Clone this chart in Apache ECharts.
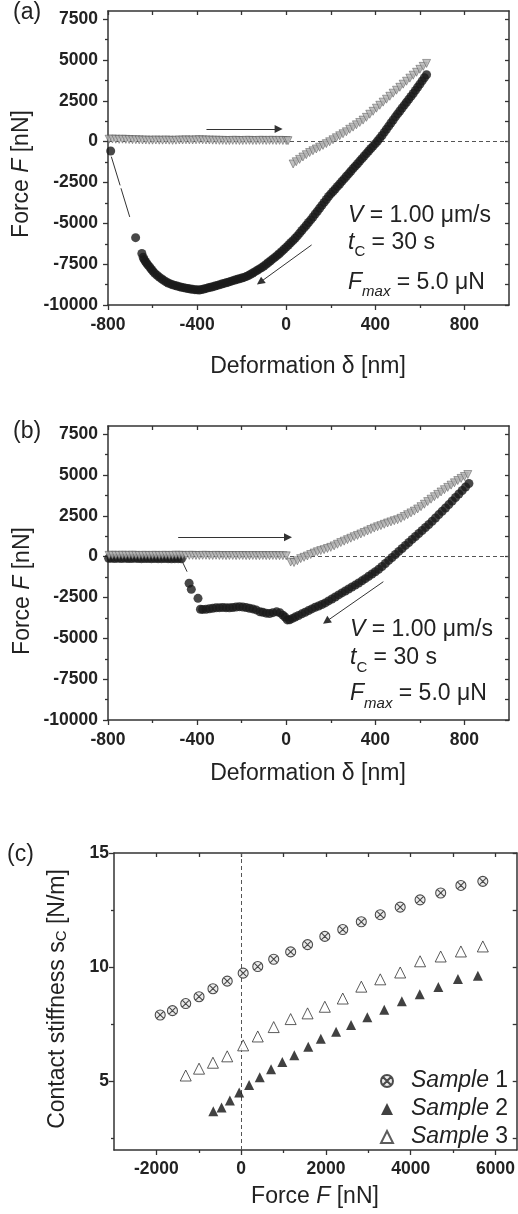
<!DOCTYPE html>
<html>
<head>
<meta charset="utf-8">
<script src="https://cdn.jsdelivr.net/npm/echarts@6/dist/echarts.min.js"></script>
<style>
html, body { margin: 0; padding: 0; background: #fff; }
#chart { width: 518px; height: 1214px; }
</style>
</head>
<body>
<div id="chart"></div>
<script>
/* three stacked panels: (a), (b) force curves, (c) contact stiffness */

var FONT = '"Liberation Sans", Arial, Helvetica, sans-serif';

/* tick positions */
var deformMajor = [-800, -400, 0, 400, 800];
var deformMinor = [-600, -200, 200, 600];
var forceMajor = [-10000, -7500, -5000, -2500, 0, 2500, 5000, 7500];
var forceMinor = [-8750, -6250, -3750, -1250, 1250, 3750, 6250];
var loadMajor = [-2000, 0, 2000, 4000, 6000];
var loadMinor = [-1000, 1000, 3000, 5000];
var stiffMajor = [5, 10, 15];
var stiffMinor = [2.5, 7.5, 12.5];

/* panel (a): approach (grey) and retract (black), [deformation nm, force nN] */
var approachA = [
	[-795, 150], [-780, 160], [-765, 150], [-750, 140], [-735, 150], [-720, 140], [-705, 130], [-690, 120],
	[-675, 120], [-660, 110], [-645, 100], [-630, 100], [-615, 90], [-600, 90], [-585, 100], [-570, 90],
	[-555, 90], [-540, 100], [-525, 90], [-510, 80], [-495, 90], [-480, 100], [-465, 100], [-450, 110],
	[-435, 100], [-420, 100], [-405, 110], [-390, 120], [-375, 110], [-360, 100], [-345, 100], [-330, 90],
	[-315, 90], [-300, 80], [-285, 80], [-270, 70], [-255, 70], [-240, 80], [-225, 80], [-210, 70],
	[-195, 70], [-180, 80], [-165, 80], [-150, 70], [-135, 70], [-120, 80], [-105, 80], [-90, 70],
	[-75, 80], [-60, 80], [-45, 70], [-30, 80], [-15, 70], [0, 70], [8, 60],
	[31, -1365], [45, -1230], [60, -1085], [75, -940], [90, -800], [105, -668], [120, -558], [135, -448],
	[150, -339], [165, -229], [180, -120], [195, -7], [210, 115], [225, 238], [240, 361], [255, 484],
	[270, 604], [285, 760], [300, 890], [315, 1030], [330, 1175], [345, 1320], [360, 1490], [375, 1680],
	[390, 1860], [405, 2050], [420, 2230], [435, 2420], [450, 2600], [465, 2780], [480, 2970], [495, 3150],
	[510, 3330], [525, 3520], [540, 3700], [555, 3890], [570, 4070], [585, 4250], [600, 4430], [615, 4610],
	[630, 4790]
];
var retractA = [
	[630, 4100], [620, 3910], [610, 3720], [600, 3520], [590, 3330], [580, 3140], [570, 2950], [560, 2770],
	[550, 2590], [540, 2410], [530, 2240], [520, 2060], [510, 1880], [500, 1700], [490, 1520], [480, 1330],
	[470, 1140], [460, 950], [450, 760], [440, 570], [430, 380], [420, 210], [410, 40], [400, -120],
	[390, -270], [380, -420], [370, -570], [360, -730], [350, -880], [340, -1040], [330, -1190], [320, -1350],
	[310, -1500], [300, -1650], [290, -1810], [280, -1970], [270, -2120], [260, -2280], [250, -2430], [240, -2590],
	[230, -2740], [220, -2900], [210, -3050], [200, -3200], [190, -3360], [180, -3540], [170, -3720], [160, -3900],
	[150, -4080], [140, -4260], [130, -4430], [120, -4610], [110, -4790], [100, -4950], [90, -5120], [80, -5280],
	[70, -5440], [60, -5600], [50, -5770], [40, -5910], [30, -6060], [20, -6190], [10, -6330], [0, -6460],
	[-10, -6590], [-20, -6720], [-30, -6850], [-40, -6960], [-50, -7070], [-60, -7180], [-70, -7290], [-80, -7400],
	[-90, -7510], [-100, -7610], [-110, -7710], [-120, -7790], [-130, -7870], [-140, -7960], [-150, -8040],
	[-160, -8120], [-170, -8200], [-180, -8260], [-190, -8310], [-200, -8350], [-210, -8390], [-220, -8430],
	[-230, -8470], [-240, -8510], [-250, -8555], [-260, -8600], [-270, -8640], [-280, -8680], [-290, -8720],
	[-300, -8760], [-310, -8800], [-320, -8840], [-330, -8880], [-340, -8915], [-350, -8950], [-360, -8985],
	[-370, -9020], [-380, -9050], [-390, -9080], [-400, -9070], [-410, -9060], [-420, -9040], [-430, -9020],
	[-440, -8995], [-450, -8970], [-460, -8940], [-470, -8910], [-480, -8875], [-490, -8840], [-500, -8800],
	[-510, -8760], [-520, -8710], [-530, -8650], [-540, -8575], [-550, -8490], [-560, -8395], [-570, -8290],
	[-580, -8180], [-590, -8060], [-598, -7940], [-605, -7820], [-612, -7690], [-620, -7560], [-626, -7450],
	[-632, -7340], [-638, -7210], [-642, -7080], [-648, -6850], [-676, -5875], [-788, -570]
];
var jumpA = [[-785, -920], [-702, -4630]];
var arrowsA = [[[-358, 780], [-34, 780], 0], [[114, -6322], [-117, -8605], -0.12]];

/* panel (b) */
var approachB = [
	[-795, 80], [-780, 90], [-765, 80], [-750, 80], [-735, 90], [-720, 80], [-705, 80], [-690, 90],
	[-675, 80], [-660, 70], [-645, 80], [-630, 80], [-615, 70], [-600, 80], [-585, 80], [-570, 70],
	[-555, 80], [-540, 80], [-525, 70], [-510, 80], [-495, 90], [-480, 80], [-465, 80], [-450, 70],
	[-435, 80], [-420, 80], [-405, 70], [-390, 70], [-375, 80], [-360, 80], [-345, 70], [-330, 70],
	[-315, 80], [-300, 70], [-285, 70], [-270, 60], [-255, 70], [-240, 70], [-225, 60], [-210, 70],
	[-195, 70], [-180, 60], [-165, 60], [-150, 70], [-135, 60], [-120, 60], [-105, 70], [-90, 60],
	[-75, 60], [-60, 70], [-45, 60], [-30, 60], [-15, 60], [0, 50],
	[20, -330], [35, -360], [50, -250], [65, -120], [80, -40], [95, 40], [110, 130], [125, 220],
	[140, 300], [155, 370], [170, 430], [185, 500], [200, 570], [215, 660], [230, 760], [245, 860],
	[260, 950], [275, 1040], [290, 1130], [305, 1220], [320, 1300], [335, 1390], [350, 1480], [365, 1570],
	[380, 1660], [395, 1750], [410, 1830], [425, 1900], [440, 1980], [455, 2060], [470, 2130], [485, 2200],
	[500, 2260], [515, 2350], [530, 2460], [545, 2570], [560, 2680], [575, 2790], [590, 2920], [605, 3060],
	[620, 3210], [635, 3370], [650, 3520], [665, 3670], [680, 3810], [695, 3960], [710, 4100], [725, 4240],
	[740, 4380], [755, 4520], [770, 4660], [785, 4790], [800, 4910], [815, 5030]
];
var retractB = [
	[820, 4480], [805, 4265], [790, 4050], [775, 3835], [760, 3620], [745, 3405], [730, 3190], [715, 2980],
	[700, 2780], [685, 2575], [670, 2370], [655, 2165], [640, 1970], [625, 1785], [610, 1600], [595, 1420],
	[580, 1235], [565, 1055], [550, 870], [535, 690], [520, 500], [505, 320], [490, 135], [475, -50],
	[460, -230], [445, -420], [430, -600], [415, -770], [400, -920], [385, -1060], [370, -1200], [355, -1345],
	[340, -1480], [325, -1610], [310, -1740], [295, -1860], [280, -1980], [265, -2100], [250, -2220], [235, -2340],
	[220, -2470], [205, -2590], [190, -2710], [175, -2830], [160, -2930], [145, -3020], [130, -3100], [115, -3200],
	[100, -3300], [85, -3400], [70, -3500], [55, -3600], [40, -3700], [28, -3780], [15, -3860], [5, -3870],
	[-5, -3700], [-15, -3580], [-28, -3440], [-43, -3380], [-60, -3430], [-75, -3480], [-90, -3460], [-105, -3400],
	[-118, -3370], [-135, -3260], [-150, -3200], [-165, -3160], [-180, -3110], [-195, -3080], [-210, -3060],
	[-225, -3080], [-240, -3110], [-255, -3130], [-270, -3120], [-285, -3110], [-300, -3120], [-315, -3130],
	[-330, -3160], [-345, -3190], [-360, -3220], [-375, -3230], [-385, -3220], [-396, -2550], [-426, -2000],
	[-436, -1630],
	[-470, -130], [-485, -120], [-500, -120], [-515, -130], [-530, -120], [-545, -110], [-560, -120],
	[-575, -120], [-590, -110], [-605, -120], [-620, -110], [-635, -110], [-650, -120], [-665, -110],
	[-680, -100], [-695, -110], [-710, -110], [-725, -100], [-740, -110], [-755, -100], [-770, -110],
	[-785, -100], [-797, -100]
];
var jumpB = [[-470, -200], [-445, -920]];
var arrowsB = [[[-485, 1189], [8, 1189], 0], [[436, -1532], [180, -3964], 0]];

/* panel (c): contact stiffness [force nN, s_C N/m] */
var sample1 = [
	[-1910, 7.91], [-1621, 8.10], [-1308, 8.41], [-994, 8.71], [-666, 9.06], [-329, 9.39], [47, 9.74],
	[391, 10.03], [767, 10.35], [1167, 10.67], [1566, 10.99], [1973, 11.35], [2396, 11.65], [2834, 11.99],
	[3281, 12.30], [3751, 12.63], [4220, 12.95], [4706, 13.25], [5183, 13.58], [5700, 13.76]
];
var sample2 = [
	[-658, 3.70], [-462, 3.86], [-266, 4.17], [-47, 4.52], [188, 4.84], [438, 5.18], [705, 5.53],
	[971, 5.85], [1253, 6.15], [1582, 6.52], [1879, 6.87], [2239, 7.18], [2592, 7.47], [2975, 7.81],
	[3375, 8.14], [3790, 8.51], [4212, 8.82], [4651, 9.14], [5113, 9.49], [5583, 9.63]
];
var sample3 = [
	[-1308, 5.26], [-994, 5.56], [-666, 5.82], [-329, 6.10], [47, 6.58], [391, 6.97], [767, 7.38],
	[1167, 7.73], [1566, 7.98], [1973, 8.27], [2396, 8.63], [2834, 9.15], [3281, 9.47], [3751, 9.77],
	[4220, 10.26], [4706, 10.47], [5183, 10.69], [5700, 10.91]
];

var crossCircle = 'path://M1,8A7,7 0 1,1 15,8A7,7 0 1,1 1,8Z M3.1,3.1L12.9,12.9 M12.9,3.1L3.1,12.9';

function frameAxes(grid, dim, min, max, majors, minors, margin) {
	var line = { show: true, onZero: false, lineStyle: { color: '#333', width: 1.5 } };
	var tickStyle = { color: '#333', width: 1.3 };
	var sides = dim === 'x' ? ['bottom', 'top'] : ['left', 'right'];
	function base(extra) {
		return Object.assign({
			type: 'value', gridIndex: grid, min: min, max: max,
			splitLine: { show: false },
			axisLine: { show: false, onZero: false },
			axisTick: { show: false },
			axisLabel: { show: false }
		}, extra);
	}
	return [
		base({
			position: sides[0], axisLine: line,
			axisTick: { show: true, customValues: majors, length: 5, lineStyle: tickStyle },
			axisLabel: {
				show: true, customValues: majors, margin: margin,
				formatter: function(v) { return String(v); },
				fontFamily: FONT, fontSize: 17.5, fontWeight: 'bold', color: '#222'
			}
		}),
		base({ position: sides[0], axisTick: { show: true, customValues: minors, length: 3, lineStyle: tickStyle } }),
		base({
			position: sides[1], axisLine: line,
			axisTick: { show: true, inside: true, customValues: majors.concat(minors), length: 4, lineStyle: tickStyle }
		})
	];
}

function arrowLines(list) {
	return {
		silent: true, symbol: ['none', 'triangle'], symbolSize: 8,
		label: { show: false },
		lineStyle: { color: '#333', width: 1, type: 'solid' },
		data: list.map(function(a) {
			return [{ coord: a[0] }, { coord: a[1], lineStyle: { curveness: a[2] } }];
		})
	};
}

function zeroLine(item) {
	return {
		silent: true, symbol: 'none', z: 1,
		label: { show: false },
		lineStyle: { color: '#555', width: 1, type: [4, 3] },
		data: [item]
	};
}

function forceSeries(p, approach, retract, jump, arrows) {
	return [
		{
			type: 'scatter', xAxisIndex: 3 * p, yAxisIndex: 3 * p, data: retract,
			symbol: 'circle', symbolSize: 9, itemStyle: { color: '#1a1a1a' },
			markLine: arrowLines(arrows)
		},
		{
			type: 'scatter', xAxisIndex: 3 * p, yAxisIndex: 3 * p, data: approach,
			symbol: 'triangle', symbolRotate: 180, symbolSize: 8,
			itemStyle: { color: '#b2b2b2', borderColor: '#4a4a4a', borderWidth: 0.6 },
			markLine: zeroLine({ yAxis: 0 })
		},
		{
			type: 'line', xAxisIndex: 3 * p, yAxisIndex: 3 * p, data: jump, symbol: 'none',
			lineStyle: { color: '#333', width: 1, type: [30, 3] }
		}
	];
}

function text(x, y, str, extra) {
	var style = Object.assign({
		text: str, fontFamily: FONT, fontSize: 23, fill: '#222',
		align: 'left', verticalAlign: 'middle',
		rich: {
			it: { fontFamily: FONT, fontSize: 23, fontStyle: 'italic', fill: '#222', lineHeight: 34 },
			n: { fontFamily: FONT, fontSize: 23, fill: '#222', lineHeight: 34 },
			sub: { fontFamily: FONT, fontSize: 15, fill: '#222', lineHeight: 15, verticalAlign: 'bottom' },
			isub: { fontFamily: FONT, fontSize: 15, fontStyle: 'italic', fill: '#222', lineHeight: 15, verticalAlign: 'bottom' }
		}
	}, extra || {});
	return { type: 'text', x: x, y: y, silent: true, style: style };
}

function rotated(x, y, str) {
	var t = text(x, y, str, { align: 'center' });
	t.rotation = Math.PI / 2;
	return t;
}

var chart = echarts.init(document.getElementById('chart'));

var xAxes = [].concat(
	frameAxes(0, 'x', -800, 1000, deformMajor, deformMinor, 11),
	frameAxes(1, 'x', -800, 1000, deformMajor, deformMinor, 11),
	frameAxes(2, 'x', -3000, 6500, loadMajor, loadMinor, 10)
);
var yAxes = [].concat(
	frameAxes(0, 'y', -10000, 8000, forceMajor, forceMinor, 10),
	frameAxes(1, 'y', -10000, 8000, forceMajor, forceMinor, 10),
	frameAxes(2, 'y', 2, 15, stiffMajor, stiffMinor, 5)
);

var option = {
	animation: false,
	backgroundColor: '#fff',
	grid: [
		{ left: 108, top: 11, width: 401, height: 294 },
		{ left: 108, top: 426, width: 401, height: 294 },
		{ left: 114, top: 853, width: 405, height: 297 }
	],
	xAxis: xAxes,
	yAxis: yAxes,
	legend: {
		data: ['Sample 1', 'Sample 2', 'Sample 3'],
		orient: 'vertical', left: 375, top: 1063,
		itemWidth: 12, itemHeight: 12, itemGap: 2,
		selectedMode: false,
		formatter: function(name) { return '{pad|}{it|Sample} ' + name.slice(7); },
		textStyle: {
			fontFamily: FONT, fontSize: 23, color: '#222', lineHeight: 26,
			rich: {
				pad: { width: 13 },
				it: { fontFamily: FONT, fontSize: 23, fontStyle: 'italic', color: '#222' }
			}
		}
	},
	series: [].concat(
		forceSeries(0, approachA, retractA, jumpA, arrowsA),
		forceSeries(1, approachB, retractB, jumpB, arrowsB),
		[
			{
				name: 'Sample 1', type: 'scatter', xAxisIndex: 6, yAxisIndex: 6, data: sample1,
				symbol: crossCircle, symbolSize: 10,
				itemStyle: { color: '#e6e6e6', borderColor: '#222', borderWidth: 1.1 },
				markLine: zeroLine({ xAxis: 0 })
			},
			{
				name: 'Sample 2', type: 'scatter', xAxisIndex: 6, yAxisIndex: 6, data: sample2,
				symbol: 'triangle', symbolSize: 10, itemStyle: { color: '#111' }
			},
			{
				name: 'Sample 3', type: 'scatter', xAxisIndex: 6, yAxisIndex: 6, data: sample3,
				symbol: 'triangle', symbolSize: 11,
				itemStyle: { color: '#fff', borderColor: '#333', borderWidth: 1 }
			}
		]
	),
	graphic: [
		text(13, 12.5, '(a)'),
		text(13, 432, '(b)'),
		text(7, 855, '(c)'),
		rotated(22, 174, 'Force {it|F} [nN]'),
		rotated(23, 591, 'Force {it|F} [nN]'),
		rotated(58, 999, 'Contact stiffness s{sub|C} [N/m]'),
		text(308, 367, 'Deformation \u03b4 [nm]', { align: 'center' }),
		text(308, 774, 'Deformation \u03b4 [nm]', { align: 'center' }),
		text(315, 1197, 'Force {it|F} [nN]', { align: 'center' }),
		text(348, 216, '{it|V} = 1.00 \u03bcm/s'),
		text(348, 242.5, '{it|t}{sub|C}{n| = 30 s}'),
		text(348, 282.5, '{it|F}{isub|max}{n| = 5.0 \u03bcN}'),
		text(350, 630, '{it|V} = 1.00 \u03bcm/s'),
		text(350, 658, '{it|t}{sub|C}{n| = 30 s}'),
		text(350, 694, '{it|F}{isub|max}{n| = 5.0 \u03bcN}')
	]
};

chart.setOption(option);
</script>
</body>
</html>
